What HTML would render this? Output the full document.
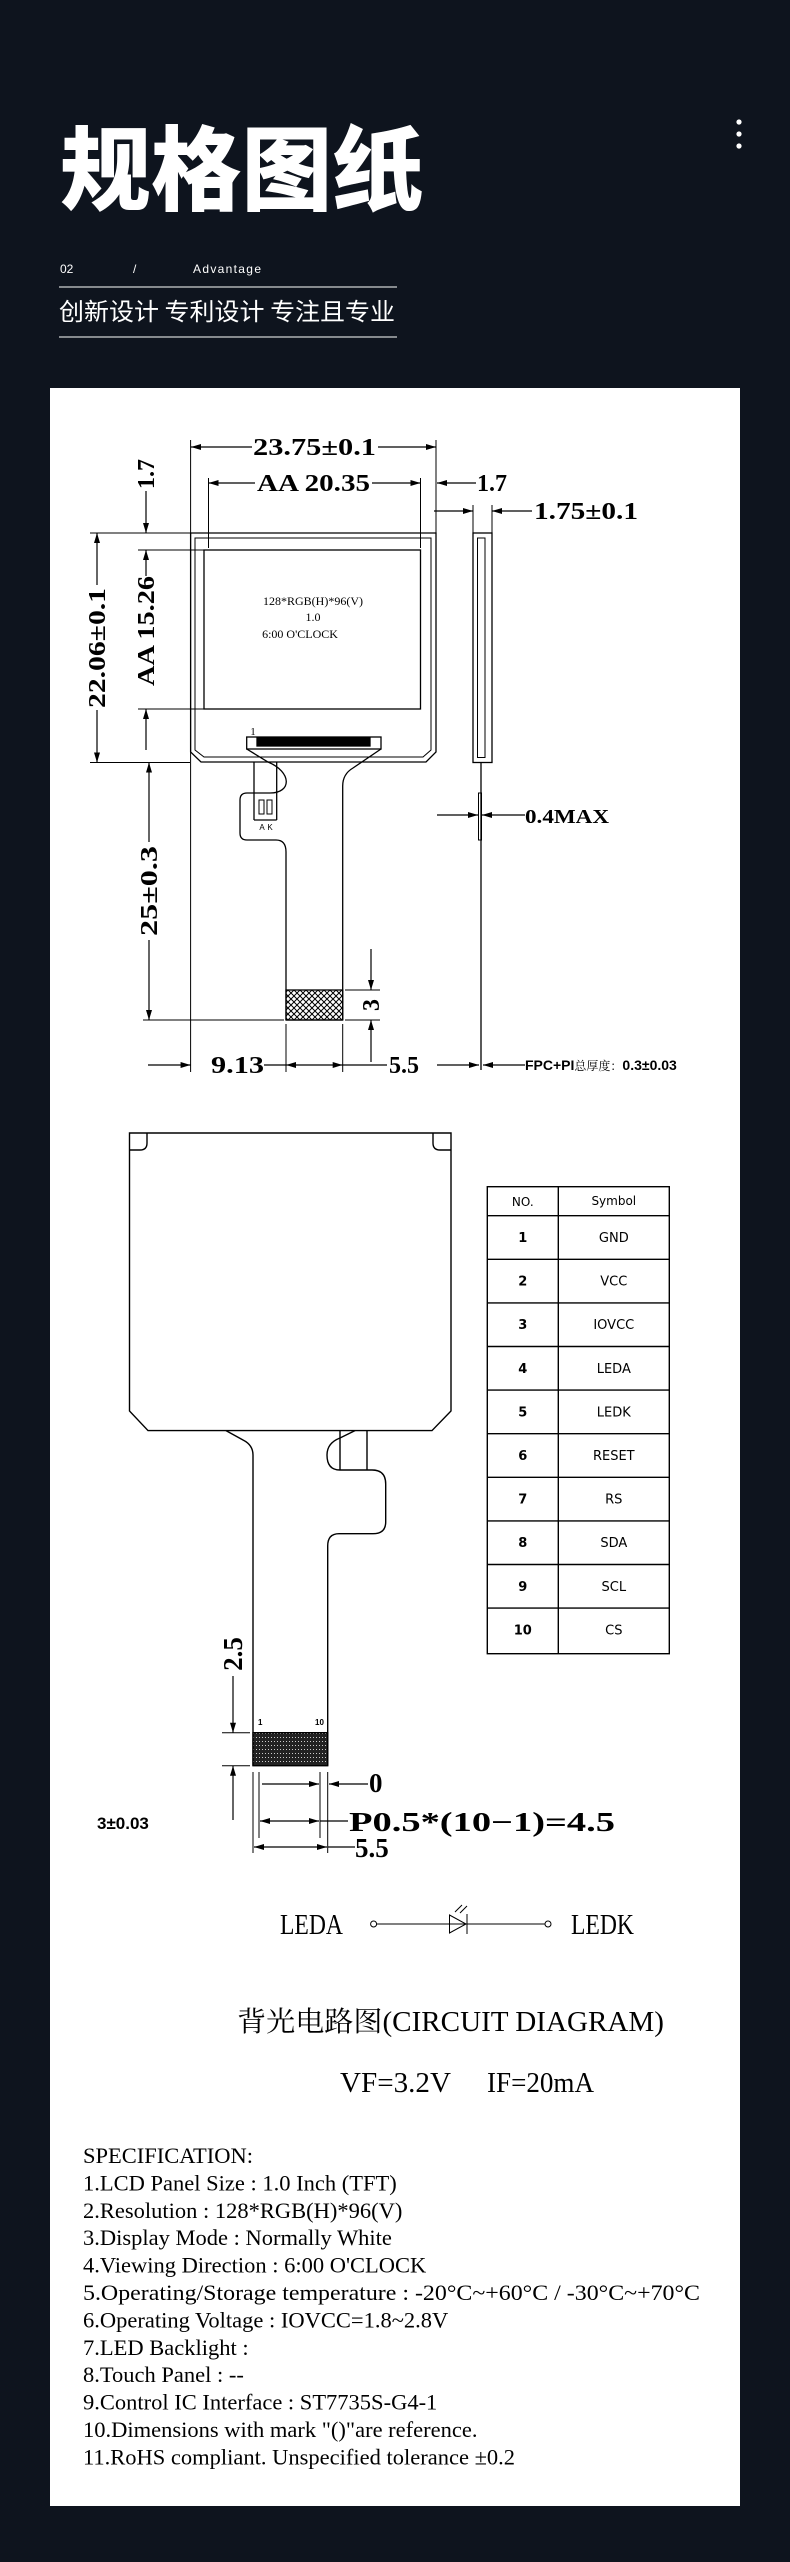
<!DOCTYPE html>
<html><head><meta charset="utf-8"><style>
html,body{margin:0;padding:0;background:#0e141e;}
svg{display:block;}
</style></head><body>
<svg width="790" height="2562" viewBox="0 0 790 2562" xmlns="http://www.w3.org/2000/svg">
<defs>
<marker id="a" viewBox="0 0 10 6" refX="10" refY="3" markerWidth="10" markerHeight="6" markerUnits="userSpaceOnUse" orient="auto-start-reverse"><path d="M0,0 L10,3 L0,6 Z" fill="#000"/></marker>
<pattern id="hx" width="6" height="6" patternUnits="userSpaceOnUse"><path d="M0,0 L6,6 M6,0 L0,6" stroke="#000" stroke-width="1"/></pattern>
<pattern id="pins" width="3" height="4" patternUnits="userSpaceOnUse"><rect width="3" height="4" fill="#222"/><rect x="1" y="1" width="1" height="1" fill="#ccc"/></pattern>
</defs>
<rect width="790" height="2562" fill="#0e141e"/>
<text x="60" y="203" font-family="Noto Sans CJK SC, sans-serif" font-weight="900" font-size="92" fill="#fff" textLength="363" lengthAdjust="spacingAndGlyphs">规格图纸</text>
<circle cx="739" cy="122" r="2.6" fill="#fff"/><circle cx="739" cy="134" r="2.6" fill="#fff"/><circle cx="739" cy="146" r="2.6" fill="#fff"/>
<g font-family="Liberation Sans, sans-serif" font-size="12" fill="#fff">
<text x="60" y="273">02</text><text x="133" y="273">/</text><text x="193" y="273" textLength="68">Advantage</text></g>
<line x1="59" y1="287" x2="397" y2="287" stroke="#fff" stroke-width="1"/>
<text x="59" y="320" font-family="Noto Sans CJK SC, sans-serif" font-size="24" fill="#fff" textLength="336" lengthAdjust="spacingAndGlyphs">创新设计 专利设计 专注且专业</text>
<line x1="59" y1="337" x2="397" y2="337" stroke="#fff" stroke-width="1"/>
<rect x="50" y="388" width="690" height="2118" fill="#fff"/>

<g stroke="#000" stroke-width="1.3" fill="none">
<path d="M190.6,533 H436 V752 L426,762 H201 L190.6,752 Z"/>
<path d="M195,538 H431 V750 L423,757 H204 L195,750 Z" stroke-width="1"/>
<rect x="204" y="550" width="216.5" height="159"/>
<rect x="246.7" y="737" width="134.3" height="12"/>
<rect x="257" y="738" width="113" height="8" fill="#000"/>
<path d="M246.7,749 L268,762 C292,772 292,793 270,793 H247 Q240,793 240,800 V833 Q240,840 247,840 H276 Q286,840 286,852 V1020"/>
<path d="M381,749 L353,768 Q342.7,774 342.7,786 V1020"/>
<line x1="254" y1="762" x2="254" y2="820"/><line x1="276.7" y1="762" x2="276.7" y2="820"/>
<line x1="254" y1="820" x2="276.7" y2="820"/>
<rect x="259" y="800" width="5" height="14" stroke-width="1"/><rect x="267" y="800" width="5" height="14" stroke-width="1"/>
<line x1="286" y1="1020" x2="342.7" y2="1020"/>
<rect x="286" y="990" width="56.7" height="30" fill="url(#hx)"/>
<rect x="473" y="533" width="19" height="229.5"/>
<rect x="477.5" y="538" width="7.5" height="219.5" stroke-width="1"/>
<line x1="481" y1="762" x2="481" y2="1070"/>
<rect x="478.5" y="793" width="3" height="47" stroke-width="1"/>
<g stroke-width="1">
<line x1="190.6" y1="440" x2="190.6" y2="1072"/>
<line x1="436" y1="440" x2="436" y2="533"/>
<line x1="208.5" y1="478" x2="208.5" y2="548"/>
<line x1="420.5" y1="478" x2="420.5" y2="548"/>
<line x1="473" y1="505" x2="473" y2="533"/><line x1="492" y1="505" x2="492" y2="533"/>
<line x1="90" y1="533" x2="190" y2="533"/><line x1="90" y1="762.5" x2="190" y2="762.5"/>
<line x1="138" y1="550" x2="204" y2="550"/><line x1="138" y1="709" x2="204" y2="709"/>
<line x1="143" y1="1020" x2="284" y2="1020"/>
<line x1="345" y1="990" x2="380" y2="990"/><line x1="345" y1="1020" x2="380" y2="1020"/>
<line x1="286" y1="1024" x2="286" y2="1072"/><line x1="342.7" y1="1024" x2="342.7" y2="1072"/>
</g>
<g stroke-width="1.2">
<line x1="252" y1="447" x2="191" y2="447" marker-end="url(#a)"/>
<line x1="378" y1="447" x2="436" y2="447" marker-end="url(#a)"/>
<line x1="255" y1="483" x2="208.5" y2="483" marker-end="url(#a)"/>
<line x1="372" y1="483" x2="420.5" y2="483" marker-end="url(#a)"/>
<line x1="476" y1="483" x2="437" y2="483" marker-end="url(#a)"/>
<line x1="434" y1="511" x2="473" y2="511" marker-end="url(#a)"/>
<line x1="532" y1="511" x2="492" y2="511" marker-end="url(#a)"/>
<line x1="437" y1="815" x2="478" y2="815" marker-end="url(#a)"/>
<line x1="525" y1="815" x2="482" y2="815" marker-end="url(#a)"/>
<line x1="97" y1="585" x2="97" y2="533" marker-end="url(#a)"/>
<line x1="97" y1="710" x2="97" y2="762.5" marker-end="url(#a)"/>
<line x1="146" y1="491" x2="146" y2="533" marker-end="url(#a)"/>
<line x1="146" y1="576" x2="146" y2="550" marker-end="url(#a)"/>
<line x1="146" y1="750" x2="146" y2="709" marker-end="url(#a)"/>
<line x1="149" y1="842" x2="149" y2="762.5" marker-end="url(#a)"/>
<line x1="149" y1="940" x2="149" y2="1020" marker-end="url(#a)"/>
<line x1="371" y1="949" x2="371" y2="990" marker-end="url(#a)"/>
<line x1="371" y1="1062" x2="371" y2="1020" marker-end="url(#a)"/>
<line x1="148" y1="1065" x2="190.6" y2="1065" marker-end="url(#a)"/>
<line x1="264" y1="1065" x2="286" y2="1065"/>
<line x1="314" y1="1065" x2="286" y2="1065" marker-end="url(#a)"/>
<line x1="314" y1="1065" x2="342.7" y2="1065" marker-end="url(#a)"/>
<line x1="342.7" y1="1065" x2="387" y2="1065"/>
<line x1="437" y1="1065" x2="479" y2="1065" marker-end="url(#a)"/>
<line x1="525" y1="1065" x2="483" y2="1065" marker-end="url(#a)"/>
</g>
</g>
<g font-family="Liberation Serif, serif" font-weight="bold" font-size="24" fill="#000">
<text x="253" y="455" textLength="123" lengthAdjust="spacingAndGlyphs">23.75±0.1</text>
<text x="257" y="491" textLength="113" lengthAdjust="spacingAndGlyphs">AA 20.35</text>
<text x="477" y="491">1.7</text>
<text x="534" y="519" textLength="104" lengthAdjust="spacingAndGlyphs">1.75±0.1</text>
<text x="525" y="823" font-size="20" textLength="84" lengthAdjust="spacingAndGlyphs">0.4MAX</text>
<text transform="translate(105,648) rotate(-90)" text-anchor="middle" textLength="120" lengthAdjust="spacingAndGlyphs">22.06±0.1</text>
<text transform="translate(154,474) rotate(-90)" text-anchor="middle">1.7</text>
<text transform="translate(154,631) rotate(-90)" text-anchor="middle" textLength="110" lengthAdjust="spacingAndGlyphs">AA 15.26</text>
<text transform="translate(157,891) rotate(-90)" text-anchor="middle" textLength="90" lengthAdjust="spacingAndGlyphs">25±0.3</text>
<text transform="translate(379,1005) rotate(-90)" text-anchor="middle">3</text>
<text x="211" y="1073" textLength="53" lengthAdjust="spacingAndGlyphs">9.13</text>
<text x="389" y="1073">5.5</text>
<text x="525" y="1070" font-size="14" font-family="Liberation Sans, sans-serif">FPC+PI<tspan font-weight="normal" font-family="Noto Serif CJK SC, serif" font-size="12">总厚度：</tspan>0.3±0.03</text>
</g>
<g font-family="Liberation Serif, serif" font-size="12" fill="#000" text-anchor="middle">
<text x="313" y="605">128*RGB(H)*96(V)</text><text x="313" y="621">1.0</text>
<text x="300" y="638">6:00  O'CLOCK</text>
<text x="253" y="735" font-size="11">1</text>
<text x="262" y="830" font-size="8" font-family="Liberation Sans, sans-serif">A</text>
<text x="270" y="830" font-size="8" font-family="Liberation Sans, sans-serif">K</text>
</g>

<g stroke="#000" stroke-width="1.4" fill="none">
<path d="M129.5,1133 H451 V1411 L432,1430.6 H148 L129.5,1411 Z"/>
<path d="M129.5,1150 H140 Q147,1150 147,1143 V1133"/>
<path d="M451,1150 H440 Q433,1150 433,1143 V1133"/>
<path d="M226,1430.6 L243,1440 Q253,1445 253,1455 V1765.8"/>
<path d="M355,1430.6 L340,1438 Q327,1443 327,1455 Q327,1470 340,1470 H372 Q385.7,1470 385.7,1484 V1522 Q385.7,1533.7 373,1533.7 H339 Q327.7,1533.7 327.7,1546 V1765.8"/>
<line x1="340" y1="1430.6" x2="340" y2="1470"/><line x1="367" y1="1430.6" x2="367" y2="1470"/>
<rect x="253" y="1732.7" width="74.7" height="33" fill="url(#pins)"/>
<g stroke-width="1">
<line x1="222" y1="1732.7" x2="250" y2="1732.7"/><line x1="222" y1="1765.8" x2="250" y2="1765.8"/>
<line x1="253" y1="1772" x2="253" y2="1853"/><line x1="259" y1="1772" x2="259" y2="1838"/>
<line x1="320" y1="1772" x2="320" y2="1838"/><line x1="327.7" y1="1772" x2="327.7" y2="1853"/>
</g>
<g stroke-width="1.2">
<line x1="233" y1="1676" x2="233" y2="1732.7" marker-end="url(#a)"/>
<line x1="233" y1="1820" x2="233" y2="1765.8" marker-end="url(#a)"/>
<line x1="262" y1="1784" x2="319" y2="1784" marker-end="url(#a)"/>
<line x1="368" y1="1784" x2="329" y2="1784" marker-end="url(#a)"/>
<line x1="290" y1="1821" x2="260" y2="1821" marker-end="url(#a)"/>
<line x1="290" y1="1821" x2="319" y2="1821" marker-end="url(#a)"/>
<line x1="320" y1="1821" x2="348" y2="1821"/>
<line x1="290" y1="1847" x2="254" y2="1847" marker-end="url(#a)"/>
<line x1="290" y1="1847" x2="327" y2="1847" marker-end="url(#a)"/>
<line x1="327.7" y1="1847" x2="355" y2="1847"/>
</g>
<rect x="487.3" y="1186.7" width="182" height="467"/>
<line x1="558.3" y1="1186.7" x2="558.3" y2="1653.7"/>
<path d="M487.3,1215.7 H669.3 M487.3,1259.3 H669.3 M487.3,1302.9 H669.3 M487.3,1346.5 H669.3 M487.3,1390.1 H669.3 M487.3,1433.7 H669.3 M487.3,1477.3 H669.3 M487.3,1520.9 H669.3 M487.3,1564.5 H669.3 M487.3,1608.1 H669.3"/>
</g>
<g font-family="DejaVu Sans, sans-serif" font-size="13" fill="#000" text-anchor="middle">
<text x="522.8" y="1206" font-size="12">NO.</text><text x="613.8" y="1205" font-size="12">Symbol</text>
<text x="522.8" y="1242" font-weight="bold">1</text><text x="613.8" y="1242">GND</text>
<text x="522.8" y="1285.6" font-weight="bold">2</text><text x="613.8" y="1285.6">VCC</text>
<text x="522.8" y="1329.2" font-weight="bold">3</text><text x="613.8" y="1329.2">IOVCC</text>
<text x="522.8" y="1372.8" font-weight="bold">4</text><text x="613.8" y="1372.8">LEDA</text>
<text x="522.8" y="1416.4" font-weight="bold">5</text><text x="613.8" y="1416.4">LEDK</text>
<text x="522.8" y="1460" font-weight="bold">6</text><text x="613.8" y="1460">RESET</text>
<text x="522.8" y="1503.6" font-weight="bold">7</text><text x="613.8" y="1503.6">RS</text>
<text x="522.8" y="1547.2" font-weight="bold">8</text><text x="613.8" y="1547.2">SDA</text>
<text x="522.8" y="1590.8" font-weight="bold">9</text><text x="613.8" y="1590.8">SCL</text>
<text x="522.8" y="1634.4" font-weight="bold">10</text><text x="613.8" y="1634.4">CS</text>
</g>
<g font-family="Liberation Sans, sans-serif" font-weight="bold" fill="#000">
<text x="258" y="1725" font-size="8">1</text><text x="315" y="1725" font-size="8">10</text>
<text x="97" y="1829" font-size="17">3±0.03</text>
</g>
<g font-family="Liberation Serif, serif" font-weight="bold" font-size="27" fill="#000">
<text transform="translate(242,1654) rotate(-90)" text-anchor="middle">2.5</text>
<text x="369" y="1792">0</text>
<text x="349" y="1831" textLength="266" lengthAdjust="spacingAndGlyphs">P0.5*(10−1)=4.5</text>
<text x="355" y="1857">5.5</text>
</g>

<g stroke="#000" stroke-width="1" fill="none">
<circle cx="373.6" cy="1924" r="3"/><circle cx="548" cy="1924" r="3"/>
<line x1="376.6" y1="1924" x2="545" y2="1924"/>
<path d="M449.5,1915 L466,1924 L449.5,1933 Z"/>
<line x1="467" y1="1914" x2="467" y2="1934"/>
<path d="M455,1912 L462,1905 M460,1913 L467,1906"/>
</g>
<g font-family="Liberation Serif, serif" font-size="28" fill="#000">
<text x="280" y="1934" textLength="63" lengthAdjust="spacingAndGlyphs">LEDA</text>
<text x="571" y="1934" textLength="63" lengthAdjust="spacingAndGlyphs">LEDK</text>
<text x="237" y="2031" textLength="427" lengthAdjust="spacingAndGlyphs"><tspan font-family="Noto Serif CJK SC, serif">背光电路图</tspan>(CIRCUIT DIAGRAM)</text>
<text x="340" y="2092" textLength="111" lengthAdjust="spacingAndGlyphs">VF=3.2V</text>
<text x="487" y="2092" textLength="107" lengthAdjust="spacingAndGlyphs">IF=20mA</text>
</g>
<g font-family="Liberation Serif, serif" font-size="22.5" fill="#000">
<text x="83" y="2163">SPECIFICATION:</text>
<text x="83" y="2190.4">1.LCD Panel Size : 1.0 Inch (TFT)</text>
<text x="83" y="2217.8">2.Resolution : 128*RGB(H)*96(V)</text>
<text x="83" y="2245.2">3.Display Mode : Normally White</text>
<text x="83" y="2272.6">4.Viewing Direction : 6:00 O'CLOCK</text>
<text x="83" y="2300" textLength="617" lengthAdjust="spacingAndGlyphs">5.Operating/Storage temperature : -20°C~+60°C / -30°C~+70°C</text>
<text x="83" y="2327.4">6.Operating Voltage : IOVCC=1.8~2.8V</text>
<text x="83" y="2354.8">7.LED Backlight :</text>
<text x="83" y="2382.2">8.Touch Panel : --</text>
<text x="83" y="2409.6">9.Control IC Interface : ST7735S-G4-1</text>
<text x="83" y="2437">10.Dimensions with mark "()"are reference.</text>
<text x="83" y="2464.4">11.RoHS compliant. Unspecified tolerance ±0.2</text>
</g>
</svg>
</body></html>
